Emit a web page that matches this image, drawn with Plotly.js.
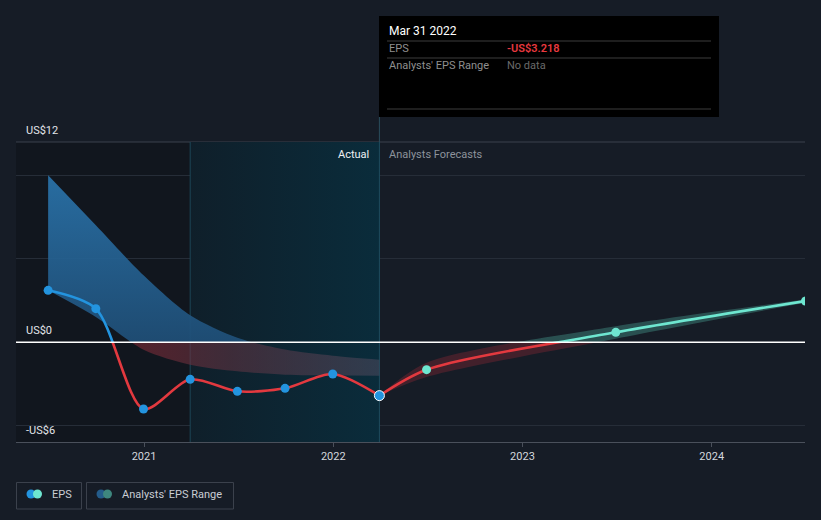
<!DOCTYPE html>
<html>
<head>
<meta charset="utf-8">
<script src="https://cdn.plot.ly/plotly-3.0.1.min.js"></script>
<style>
  html, body { margin: 0; padding: 0; background: #161c26; }
  #chart { width: 821px; height: 520px; }
</style>
</head>
<body>
<div id="chart"></div>
<script>
// ---------------- DATA ----------------
const histDates = ['2020-06-30','2020-09-30','2020-12-31','2021-03-31','2021-06-30','2021-09-30','2021-12-31','2022-03-31'];
const histEps   = [3.1, 2.0, -4.02, -2.24, -2.96, -2.78, -1.92, -3.218];

const pastRangeHigh = [10.0, 7.0, 4.0, 1.6, 0.25, -0.45, -0.82, -1.06];
const pastRangeLow  = [3.1, 1.5, -0.46, -1.36, -1.76, -1.96, -2.0, -2.02];

const fcDates = ['2022-03-31','2022-06-30','2023-06-30','2024-06-30'];
const fcEps   = [-3.218, -1.66, 0.58, 2.46];
const fcLow   = [-3.218, -2.1, 0.2, 2.36];
const fcHigh  = [-3.218, -1.25, 0.95, 2.55];

const xTickVals = ['2021-01-01','2022-01-01','2023-01-01','2024-01-01'];
const xTickText = ['2021','2022','2023','2024'];
const yLabelVals = [12, 0, -6];
const yLabelText = ['US$12','US$0','-US$6'];

const pastYearStart = '2021-03-31';
const pastYearEnd   = '2022-03-31';
const xRange = ['2020-04-29','2024-06-29'];
const yRange = [-6, 12];

const tipDate = 'Mar 31 2022';
const tipEps  = '-US$3.218';

// ---------------- STYLE ----------------
const BG = '#161c26';
const BLUE = '#2394df';
const RED = '#e3393f';
const TEAL = '#6ee6d0';
const FONT = 'Roboto, "Open Sans", sans-serif';
const SPL = {shape: 'spline', smoothing: 0.8};

// pixel -> paper helpers (plot area x:16..805, y:142..442)
const L = 16, R = 805, T = 142, B = 442;
const px = v => (v - L) / (R - L);
const py = v => (B - v) / (B - T);

const traces = [];

// highlighted "past year" region with horizontal gradient (axis y: full range)
traces.push({
  x: [pastYearStart, pastYearEnd, pastYearEnd, pastYearStart],
  y: [yRange[0], yRange[0], yRange[1], yRange[1]],
  xaxis: 'x', yaxis: 'y',
  mode: 'lines', line: {width: 0},
  fill: 'toself',
  fillgradient: {type: 'horizontal', colorscale: [[0, '#0f1f2a'], [1, '#0a2c3b']]},
  hoverinfo: 'skip', showlegend: false
});
// region boundary lines (below the data layers)
[[pastYearStart, '#1c4757'], [pastYearEnd, '#1f4d5f']].forEach(([d, c]) => traces.push({
  x: [d, d], y: yRange, xaxis: 'x', yaxis: 'y', mode: 'lines',
  line: {color: c, width: 1}, hoverinfo: 'skip', showlegend: false
}));

// past analysts range: above zero (blue) on y2, below zero (red) on y3
[['y2', 'vertical', [[0, 'rgba(29,72,110,0.92)'], [1, 'rgba(42,116,172,0.92)']]],
 ['y3', 'horizontal', [[0, 'rgba(160,36,48,0.62)'], [0.55, 'rgba(100,52,66,0.55)'], [1, 'rgba(78,74,94,0.55)']]]]
.forEach(([ax, gt, cs]) => {
  traces.push({
    x: histDates, y: pastRangeLow, yaxis: ax, xaxis: 'x',
    mode: 'lines', line: Object.assign({width: 0}, SPL),
    hoverinfo: 'skip', showlegend: false
  });
  traces.push({
    x: histDates, y: pastRangeHigh, yaxis: ax, xaxis: 'x',
    mode: 'lines', line: Object.assign({width: 0}, SPL),
    fill: 'tonexty',
    fillgradient: {type: gt, colorscale: cs},
    hoverinfo: 'skip', showlegend: false
  });
});

// forecast range
[['y2', 'rgba(70,150,138,0.42)'], ['y3', 'rgba(120,38,50,0.45)']].forEach(([ax, col]) => {
  traces.push({
    x: fcDates, y: fcLow, yaxis: ax, xaxis: 'x',
    mode: 'lines', line: Object.assign({width: 0}, SPL),
    hoverinfo: 'skip', showlegend: false
  });
  traces.push({
    x: fcDates, y: fcHigh, yaxis: ax, xaxis: 'x',
    mode: 'lines', line: Object.assign({width: 0}, SPL),
    fill: 'tonexty', fillcolor: col,
    hoverinfo: 'skip', showlegend: false
  });
});

// EPS lines, coloured by sign via clipped sub-axes
traces.push({x: histDates, y: histEps, xaxis: 'x', yaxis: 'y2', mode: 'lines',
  line: Object.assign({color: BLUE, width: 2.6}, SPL), hoverinfo: 'skip', showlegend: false});
traces.push({x: histDates, y: histEps, xaxis: 'x', yaxis: 'y3', mode: 'lines',
  line: Object.assign({color: RED, width: 2.6}, SPL), hoverinfo: 'skip', showlegend: false});
traces.push({x: fcDates, y: fcEps, xaxis: 'x', yaxis: 'y2', mode: 'lines',
  line: Object.assign({color: TEAL, width: 2.6}, SPL), hoverinfo: 'skip', showlegend: false});
traces.push({x: fcDates, y: fcEps, xaxis: 'x', yaxis: 'y3', mode: 'lines',
  line: Object.assign({color: RED, width: 2.6}, SPL), hoverinfo: 'skip', showlegend: false});

// markers on a full-range axis drawn last
const lastIdx = histDates.length - 1;
traces.push({x: fcDates.slice(1), y: fcEps.slice(1), xaxis: 'x', yaxis: 'y4', mode: 'markers',
  marker: {color: TEAL, size: 9, opacity: 1}, hoverinfo: 'skip', showlegend: false});
traces.push({x: histDates, y: histEps, xaxis: 'x', yaxis: 'y4', mode: 'markers',
  marker: {color: BLUE, opacity: 1, size: histDates.map((d, i) => i === lastIdx ? 10 : 9),
    line: {color: '#ffffff', width: histDates.map((d, i) => i === lastIdx ? 1 : 0)}},
  hoverinfo: 'skip', showlegend: false});

// ---------------- LAYOUT ----------------
const shapes = [
  // darker region before past year
  {type: 'rect', xref: 'x', yref: 'paper', x0: xRange[0], x1: pastYearStart, y0: 0, y1: 1,
   fillcolor: 'rgba(0,0,0,0.2)', line: {width: 0}, layer: 'below'},
  // top border at 12
  {type: 'line', xref: 'paper', yref: 'paper', x0: 0, x1: 1, y0: 1, y1: 1, line: {color: '#3a414c', width: 1}, layer: 'below'},
  // hover line above the plot up to the tooltip
  {type: 'line', xref: 'x', yref: 'paper', x0: pastYearEnd, x1: pastYearEnd, y0: 1, y1: py(117), line: {color: '#2a4d5c', width: 1}},
  // zero line
  {type: 'line', xref: 'paper', yref: 'paper', x0: 0, x1: 1, y0: py(342.3), y1: py(342.3), line: {color: '#ffffff', width: 1.4}, layer: 'above'},
  // tooltip
  {type: 'rect', xref: 'paper', yref: 'paper', x0: px(379), x1: px(719), y0: py(117), y1: py(16), fillcolor: '#000000', line: {width: 0}},
  {type: 'line', xref: 'paper', yref: 'paper', x0: px(387), x1: px(711), y0: py(41), y1: py(41), line: {color: '#3d3d3d', width: 1}},
  {type: 'line', xref: 'paper', yref: 'paper', x0: px(387), x1: px(711), y0: py(58), y1: py(58), line: {color: '#3d3d3d', width: 1}},
  {type: 'line', xref: 'paper', yref: 'paper', x0: px(387), x1: px(711), y0: py(109), y1: py(109), line: {color: '#3d3d3d', width: 1}},
  // legend boxes
  {type: 'rect', xref: 'paper', yref: 'paper', x0: px(16.5), x1: px(81.5), y0: py(509), y1: py(482.5), line: {color: '#3b414c', width: 1}, fillcolor: 'rgba(0,0,0,0)'},
  {type: 'rect', xref: 'paper', yref: 'paper', x0: px(86.5), x1: px(233.5), y0: py(509), y1: py(482.5), line: {color: '#3b414c', width: 1}, fillcolor: 'rgba(0,0,0,0)'},
  // legend swatches
  {type: 'circle', xref: 'paper', yref: 'paper', x0: px(26.5), x1: px(35.5), y0: py(498.5), y1: py(489.5), fillcolor: BLUE, line: {width: 0}},
  {type: 'circle', xref: 'paper', yref: 'paper', x0: px(33), x1: px(42), y0: py(498.5), y1: py(489.5), fillcolor: TEAL, line: {width: 0}},
  {type: 'circle', xref: 'paper', yref: 'paper', x0: px(96.5), x1: px(105.5), y0: py(498.5), y1: py(489.5), fillcolor: '#245c8a', line: {width: 0}},
  {type: 'circle', xref: 'paper', yref: 'paper', x0: px(103), x1: px(112), y0: py(498.5), y1: py(489.5), fillcolor: '#3e877e', line: {width: 0}}
];

const annotations = [];
yLabelVals.forEach((v, i) => annotations.push({
  xref: 'paper', yref: 'y', x: px(24), y: v, yshift: 12, xanchor: 'left', yanchor: 'middle',
  text: yLabelText[i], showarrow: false, font: {family: FONT, size: 11, color: '#e2e5ea'}
}));
annotations.push(
  {xref: 'x', yref: 'paper', x: pastYearEnd, y: py(154), xshift: -8, xanchor: 'right', yanchor: 'middle',
   text: 'Actual', showarrow: false, font: {family: FONT, size: 11, color: '#eef0f3'}},
  {xref: 'x', yref: 'paper', x: pastYearEnd, y: py(154), xshift: 8, xanchor: 'left', yanchor: 'middle',
   text: 'Analysts Forecasts', showarrow: false, font: {family: FONT, size: 11, color: '#8d939c'}},
  // tooltip text
  {xref: 'paper', yref: 'paper', x: px(387), y: py(31), xanchor: 'left', yanchor: 'middle',
   text: tipDate, showarrow: false, font: {family: FONT, size: 12, color: '#ffffff'}},
  {xref: 'paper', yref: 'paper', x: px(387), y: py(49), xanchor: 'left', yanchor: 'middle',
   text: 'EPS', showarrow: false, font: {family: FONT, size: 11, color: '#8f8f8f'}},
  {xref: 'paper', yref: 'paper', x: px(505), y: py(49), xanchor: 'left', yanchor: 'middle',
   text: tipEps, showarrow: false, font: {family: FONT, size: 11, color: '#e8393f', weight: 600}},
  {xref: 'paper', yref: 'paper', x: px(387), y: py(66), xanchor: 'left', yanchor: 'middle',
   text: "Analysts' EPS Range", showarrow: false, font: {family: FONT, size: 11, color: '#8f8f8f'}},
  {xref: 'paper', yref: 'paper', x: px(505), y: py(66), xanchor: 'left', yanchor: 'middle',
   text: 'No data', showarrow: false, font: {family: FONT, size: 11, color: '#6a6a6a'}},
  // legend text
  {xref: 'paper', yref: 'paper', x: px(50), y: py(494.5), xanchor: 'left', yanchor: 'middle',
   text: 'EPS', showarrow: false, font: {family: FONT, size: 11, color: '#c9cdd4'}},
  {xref: 'paper', yref: 'paper', x: px(120), y: py(494.5), xanchor: 'left', yanchor: 'middle',
   text: "Analysts' EPS Range", showarrow: false, font: {family: FONT, size: 11, color: '#c9cdd4'}}
);

const hidden = {anchor: 'x', visible: false, showgrid: false, zeroline: false, fixedrange: true};
const layout = {
  width: 821, height: 520,
  margin: {l: L, r: 821 - R, t: T, b: 520 - B, pad: 0},
  paper_bgcolor: BG, plot_bgcolor: 'rgba(0,0,0,0)',
  showlegend: false,
  font: {family: FONT, color: '#c9cdd4', size: 11},
  xaxis: {
    type: 'date', range: xRange, tickvals: xTickVals, ticktext: xTickText,
    ticks: 'outside', ticklen: 4, tickcolor: '#4a505b', tickwidth: 1,
    showline: true, linecolor: '#4a505b', linewidth: 1,
    showgrid: false, zeroline: false, anchor: 'y',
    tickfont: {family: FONT, size: 11, color: '#d3d7dd'}, fixedrange: true
  },
  yaxis: {
    range: yRange, tickvals: [-5, 5, 10], showticklabels: false, ticks: '',
    showgrid: true, gridcolor: '#262d38', gridwidth: 1, zeroline: false, showline: false,
    domain: [0, 1], fixedrange: true
  },
  yaxis2: Object.assign({range: [0, yRange[1]], domain: [1/3, 1]}, hidden),
  yaxis3: Object.assign({range: [yRange[0], 0], domain: [0, 1/3]}, hidden),
  yaxis4: Object.assign({range: yRange, domain: [0, 1]}, hidden),
  shapes: shapes,
  annotations: annotations,
  hovermode: false
};

Plotly.newPlot('chart', traces, layout, {displayModeBar: false, staticPlot: true});
</script>
</body>
</html>
